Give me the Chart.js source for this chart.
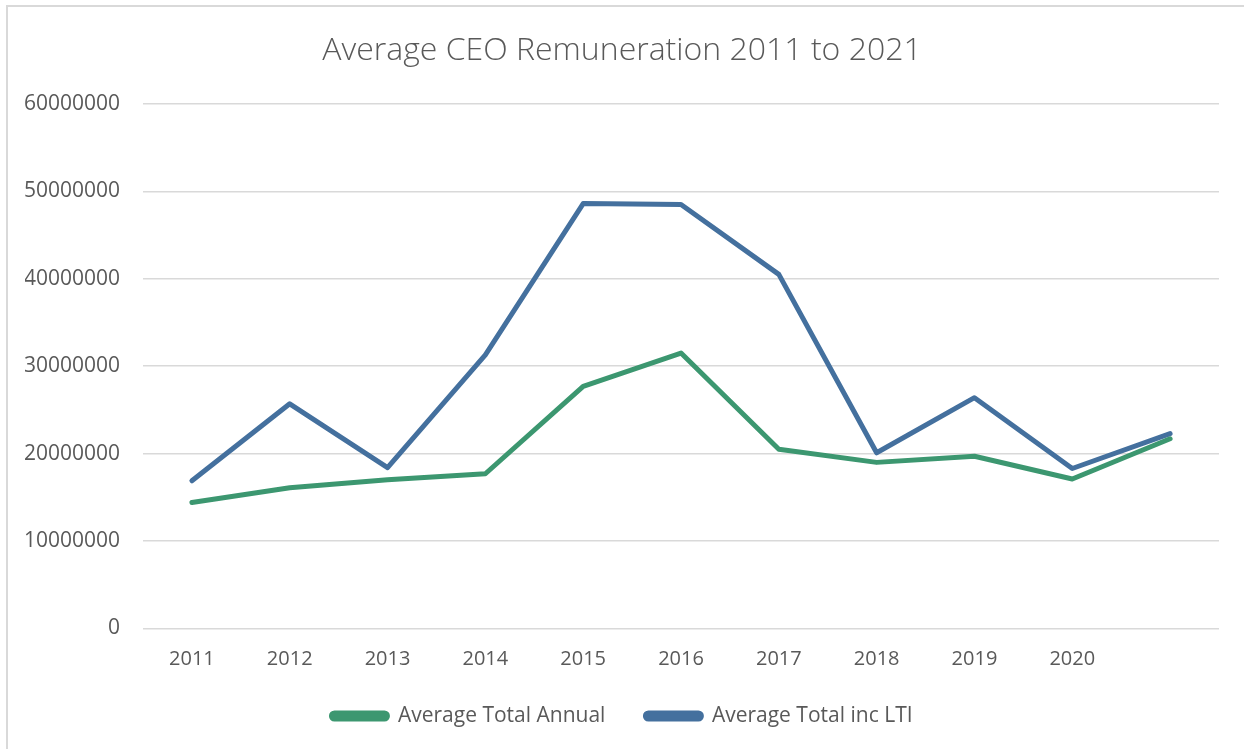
<!DOCTYPE html>
<html>
<head>
<meta charset="utf-8">
<title>Average CEO Remuneration 2011 to 2021</title>
<script src="https://cdn.jsdelivr.net/npm/chart.js@4/dist/chart.umd.min.js"></script>
<style>
    html, body { margin: 0; padding: 0; background: #fff; overflow: hidden; }
    #moldura {
        position: absolute; left: 6px; top: 5px; width: 1400px; height: 900px;
        border-left: 2px solid #d9d9d9; border-top: 2px solid #d9d9d9;
    }
    #wrap { position: absolute; left: 0; top: 0; width: 1244px; height: 749px; }
</style>
</head>
<body>
<div id="moldura"></div>
<div id="wrap"><canvas id="grafico"></canvas></div>
<script>
// Data
const years = ['2011', '2012', '2013', '2014', '2015', '2016', '2017', '2018', '2019', '2020', '2021'];
const tickLabels = ['2011', '2012', '2013', '2014', '2015', '2016', '2017', '2018', '2019', '2020', ''];
const avgTotalAnnual = [14400000, 16100000, 17000000, 17700000, 27700000, 31500000, 20500000, 19000000, 19700000, 17100000, 21700000];
const avgTotalIncLTI = [16900000, 25700000, 18400000, 31300000, 48600000, 48500000, 40500000, 20100000, 26400000, 18300000, 22300000];
const yTicks = [0, 10000000, 20000000, 30000000, 40000000, 50000000, 60000000];

const textColor = '#595959';
const fontFamily = '"Open Sans", "Noto Sans", sans-serif';

document.addEventListener('DOMContentLoaded', () => {
    const ctx = document.getElementById('grafico');

    new Chart(ctx, {
        type: 'line',
        data: {
            labels: tickLabels,
            datasets: [
                {
                    label: 'Average Total Annual',
                    data: avgTotalAnnual,
                    borderColor: '#3c9770',
                    backgroundColor: '#3c9770',
                    borderWidth: 5,
                    pointRadius: 0,
                    borderCapStyle: 'round',
                    borderJoinStyle: 'round',
                    tension: 0
                },
                {
                    label: 'Average Total inc LTI',
                    data: avgTotalIncLTI,
                    borderColor: '#44709e',
                    backgroundColor: '#44709e',
                    borderWidth: 5,
                    pointRadius: 0,
                    borderCapStyle: 'round',
                    borderJoinStyle: 'round',
                    tension: 0
                }
            ]
        },
        options: {
            responsive: true,
            maintainAspectRatio: false,
            animation: false,
            layout: { padding: { left: 25, right: 25, top: 0, bottom: 12.5 } },
            plugins: {
                title: {
                    display: true,
                    text: 'Average CEO Remuneration ' + years[0] + ' to ' + years[years.length - 1],
                    color: textColor,
                    font: { family: fontFamily, size: 32, weight: 300, lineHeight: 1.2 },
                    padding: { top: 31.5, bottom: 34 }
                },
                legend: {
                    position: 'bottom',
                    labels: {
                        color: textColor,
                        font: { family: fontFamily, size: 21 },
                        boxWidth: 56,
                        boxHeight: 6,
                        useBorderRadius: true,
                        borderRadius: 3,
                        padding: 40
                    }
                },
                tooltip: { enabled: false }
            },
            scales: {
                x: {
                    offset: true,
                    grid: { display: false },
                    border: { display: false },
                    ticks: {
                        color: textColor,
                        font: { family: fontFamily, size: 20 },
                        padding: 10.5,
                        maxRotation: 0,
                        autoSkip: false
                    },
                    afterFit: scale => { scale.height = 37; }
                },
                y: {
                    min: 0,
                    max: 60000000,
                    grid: { color: '#d9d9d9', lineWidth: 1.5, drawTicks: false },
                    border: { display: false },
                    ticks: {
                        color: textColor,
                        font: { family: fontFamily, size: 21 },
                        padding: 23,
                        stepSize: 10000000,
                        callback: v => yTicks.includes(v) ? String(v) : ''
                    },
                    afterFit: scale => { scale.width = 118; }
                }
            }
        }
    });
});
</script>
</body>
</html>
